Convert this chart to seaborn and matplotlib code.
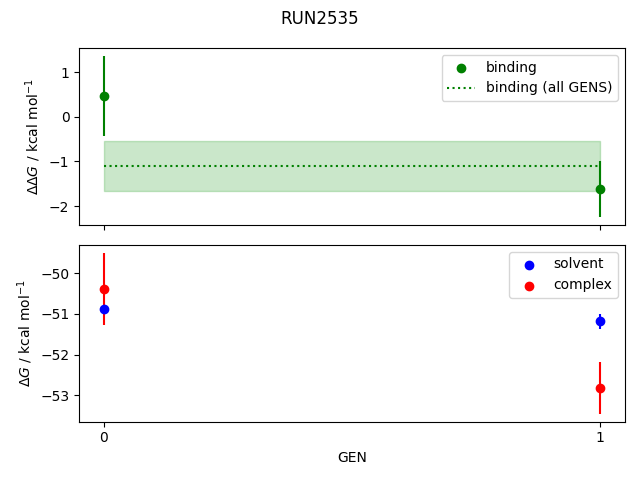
import numpy as np
import matplotlib
matplotlib.use("Agg")
import matplotlib.pyplot as plt
import seaborn as sns

# ---- data ----
gens = [0, 1]
binding = [0.465, -1.615]
binding_err = [0.895, 0.625]
binding_all = -1.10
binding_all_err = 0.55

solvent = [-50.87, -51.18]
solvent_err = [0.04, 0.18]
complex_ = [-50.39, -52.82]
complex_err = [0.89, 0.63]

fig, (ax1, ax2) = plt.subplots(2, 1, sharex=True, figsize=(6.4, 4.8), dpi=100)

# ---- top: binding free energy ----
sns.scatterplot(x=gens, y=binding, color="green", s=36, linewidth=1, edgecolor="green",
                label="binding", ax=ax1, zorder=3)
ax1.errorbar(gens, binding, yerr=binding_err, fmt="none", ecolor="green", zorder=2)
ax1.hlines(binding_all, gens[0], gens[-1], colors="green", linestyles="dotted",
           label="binding (all GENS)")
ax1.fill_between(gens, binding_all - binding_all_err, binding_all + binding_all_err,
                 color="tab:green", alpha=0.25)
ax1.set_ylabel(r"$\Delta\Delta G$ / kcal mol$^{-1}$")
ax1.legend(loc="upper right")

# ---- bottom: solvent / complex legs ----
ax2.errorbar(gens, complex_, yerr=complex_err, fmt="none", ecolor="red", zorder=1)
ax2.errorbar(gens, solvent, yerr=solvent_err, fmt="none", ecolor="blue", zorder=1)
sns.scatterplot(x=gens, y=solvent, color="blue", s=36, linewidth=1, edgecolor="blue",
                label="solvent", ax=ax2, zorder=3)
sns.scatterplot(x=gens, y=complex_, color="red", s=36, linewidth=1, edgecolor="red",
                label="complex", ax=ax2, zorder=3)
ax2.set_ylabel(r"$\Delta G$ / kcal mol$^{-1}$")
ax2.set_xlabel("GEN")
ax2.set_xticks(gens)
ax2.legend(loc="upper right")

fig.suptitle("RUN2535")
plt.tight_layout()
plt.savefig("out.png", dpi=100)
